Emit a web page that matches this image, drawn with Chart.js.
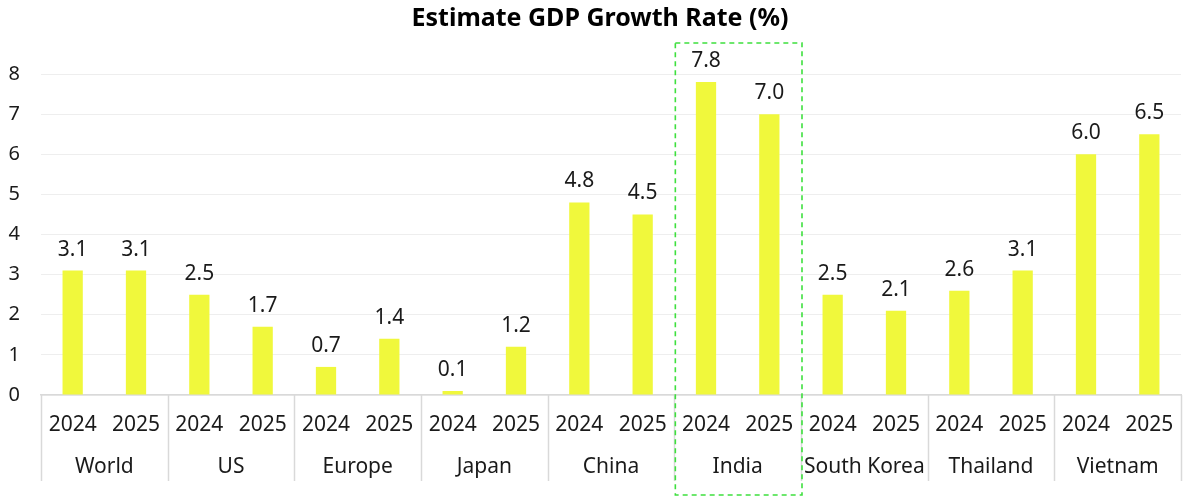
<!DOCTYPE html>
<html>
<head>
<meta charset="utf-8">
<script src="https://cdn.jsdelivr.net/npm/chart.js@4/dist/chart.umd.min.js"></script>
<style>
html,body{margin:0;padding:0;background:#fff;}
#wrap{width:1200px;height:504px;position:relative;}
</style>
</head>
<body>
<div id="wrap"><canvas id="c" width="1200" height="504"></canvas></div>
<script>
const countries = ["World","US","Europe","Japan","China","India","South Korea","Thailand","Vietnam"];
const years = ["2024","2025"];
const values2024 = [3.1, 2.5, 0.7, 0.1, 4.8, 7.8, 2.5, 2.6, 6.0];
const values2025 = [3.1, 1.7, 1.4, 1.2, 4.5, 7.0, 2.1, 3.1, 6.5];
const yTicks = [0,1,2,3,4,5,6,7,8];
const highlightCountry = "India";

const FONT = "'Noto Sans', sans-serif";
const BAR = '#F0F83C';
const TXT = '#1a1a1a';

const annotate = {
  id: 'annotate',
  afterDatasetsDraw(chart) {
    const ctx = chart.ctx;
    const xs = chart.scales.x;
    const area = chart.chartArea;
    ctx.save();
    ctx.fillStyle = TXT;
    ctx.textAlign = 'center';
    // data labels
    ctx.font = "21px " + FONT;
    ctx.textBaseline = 'middle';
    chart.data.datasets.forEach((ds, di) => {
      const meta = chart.getDatasetMeta(di);
      meta.data.forEach((bar, i) => {
        ctx.fillText(ds.data[i].toFixed(1), bar.x, bar.y - 21);
      });
    });
    // year labels under each bar
    chart.data.datasets.forEach((ds, di) => {
      const meta = chart.getDatasetMeta(di);
      meta.data.forEach((bar) => {
        ctx.fillText(ds.label, bar.x, area.bottom + 30);
      });
    });
    // country labels
    countries.forEach((c, i) => {
      ctx.fillText(c, xs.getPixelForValue(i), area.bottom + 72);
    });
    // separators
    const w = xs.width / countries.length;
    ctx.strokeStyle = '#d9d9d9';
    ctx.lineWidth = 1.5;
    for (let i = 0; i <= countries.length; i++) {
      const x = Math.round(xs.left + i * w) + 0.5;
      ctx.beginPath();
      ctx.moveTo(x, area.bottom);
      ctx.lineTo(x, area.bottom + 86);
      ctx.stroke();
    }
    // highlight box
    const hi = countries.indexOf(highlightCountry);
    const cx = xs.getPixelForValue(hi);
    ctx.strokeStyle = '#3ee03e';
    ctx.lineWidth = 1.6;
    ctx.setLineDash([5, 4]);
    ctx.strokeRect(cx - w / 2 + 1, 43, w, 452);
    ctx.restore();
  }
};

new Chart(document.getElementById('c'), {
  type: 'bar',
  data: {
    labels: countries,
    datasets: [
      { label: years[0], data: values2024, backgroundColor: BAR, categoryPercentage: 1, barPercentage: 0.32 },
      { label: years[1], data: values2025, backgroundColor: BAR, categoryPercentage: 1, barPercentage: 0.32 }
    ]
  },
  options: {
    responsive: false,
    animation: false,
    layout: { padding: { left: 0, right: 0, top: 0, bottom: 22 } },
    plugins: {
      legend: { display: false },
      tooltip: { enabled: false },
      title: {
        display: true,
        text: 'Estimate GDP Growth Rate (%)',
        color: '#000',
        font: { family: FONT, size: 25, weight: 'bold' },
        padding: { top: 4, bottom: 40 }
      }
    },
    scales: {
      x: {
        grid: { display: false, drawTicks: false },
        border: { display: true, color: '#d9d9d9', width: 1.5 },
        ticks: { display: false },
        afterFit(scale) { scale.height = 87; }
      },
      y: {
        min: 0, max: 8,
        afterBuildTicks(scale) { scale.ticks = yTicks.map(v => ({ value: v })); },
        grid: { color: '#eeeeee', drawTicks: false },
        border: { display: false },
        ticks: { color: TXT, font: { family: FONT, size: 20 }, padding: 21 },
        afterFit(scale) { scale.width = 41; }
      },
      yRight: {
        position: 'right',
        min: 0, max: 8,
        grid: { display: false, drawTicks: false },
        border: { display: false },
        ticks: { display: false },
        afterFit(scale) { scale.width = 19; }
      }
    }
  },
  plugins: [annotate]
});
</script>
</body>
</html>
